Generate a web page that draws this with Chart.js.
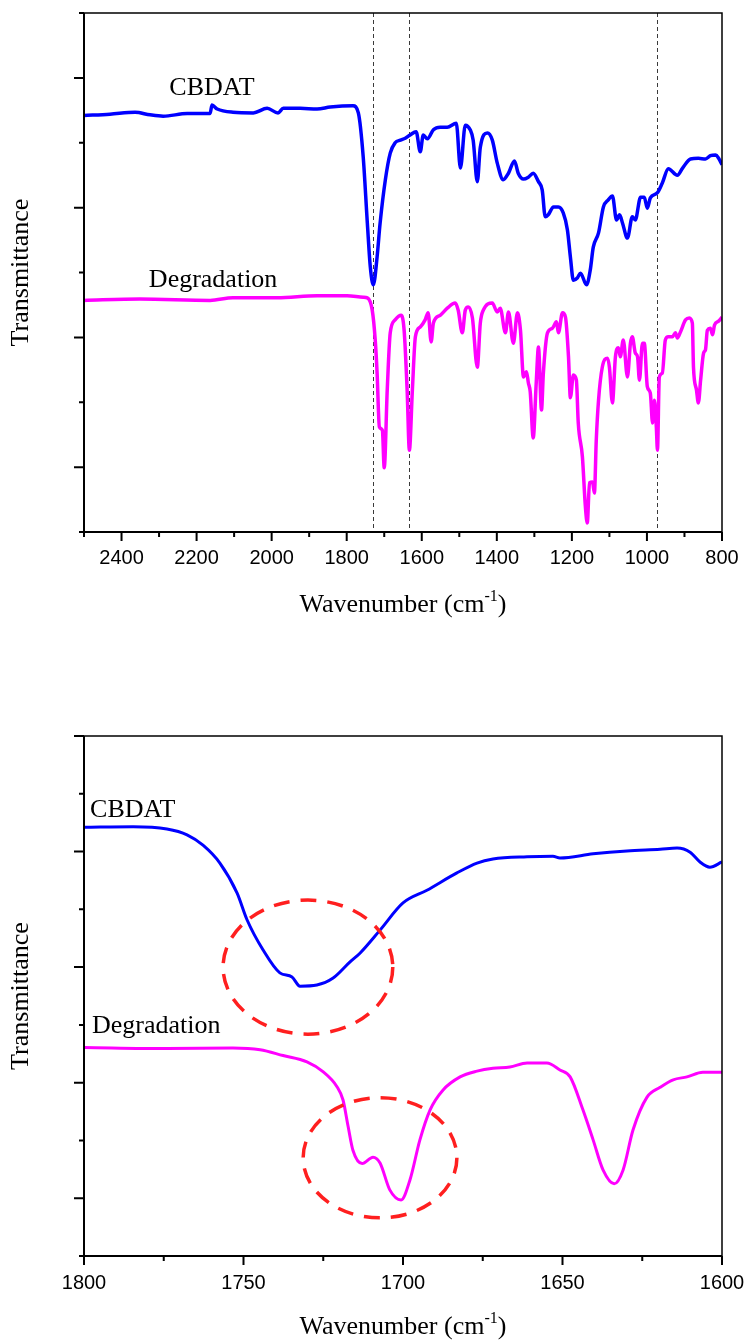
<!DOCTYPE html>
<html>
<head>
<meta charset="utf-8">
<script src="https://cdn.jsdelivr.net/npm/chart.js@4.4.1/dist/chart.umd.min.js"></script>
<style>
html, body { margin: 0; padding: 0; background: #fff; }
#wrapTop { position: absolute; left: 0; top: 0; width: 746px; height: 680px; }
#wrapBottom { position: absolute; left: 0; top: 680px; width: 746px; height: 662px; }
</style>
</head>
<body>
<div id="wrapTop"><canvas id="top" width="746" height="680"></canvas></div>
<div id="wrapBottom"><canvas id="bottom" width="746" height="662"></canvas></div>
<script>
// full range spectra (2500 - 800 cm-1), transmittance in arbitrary units
const cbdatWave = [2500, 2431, 2364, 2324, 2289, 2225, 2164, 2159, 2145, 2103,
    2049, 2012, 1983, 1969, 1924, 1879, 1844, 1783, 1769, 1756,
    1745, 1737, 1729, 1719, 1711, 1697, 1684, 1671, 1657, 1644,
    1631, 1615, 1604, 1596, 1585, 1569, 1551, 1532, 1508, 1497,
    1484, 1471, 1463, 1452, 1444, 1425, 1412, 1399, 1383, 1369,
    1353, 1343, 1329, 1316, 1303, 1289, 1279, 1271, 1263, 1249,
    1236, 1223, 1212, 1204, 1196, 1185, 1177, 1161, 1151, 1143,
    1129, 1116, 1103, 1092, 1081, 1073, 1065, 1052, 1039, 1031,
    1017, 1007, 999, 991, 972, 959, 943, 919, 905, 884,
    863, 844, 831, 817, 809, 800]
const cbdatT = [6.42, 6.44, 6.47, 6.43, 6.41, 6.45, 6.45, 6.58, 6.52, 6.47,
    6.46, 6.53, 6.46, 6.53, 6.53, 6.52, 6.55, 6.57, 6.46, 5.78,
    4.76, 4.08, 3.81, 4.24, 4.76, 5.43, 5.84, 6.00, 6.04, 6.07,
    6.12, 6.17, 5.86, 6.12, 6.06, 6.20, 6.24, 6.24, 6.30, 5.61,
    6.27, 6.20, 6.04, 5.40, 5.93, 6.15, 6.04, 5.69, 5.43, 5.53,
    5.72, 5.53, 5.44, 5.47, 5.53, 5.40, 5.27, 4.86, 4.89, 5.01,
    5.01, 4.92, 4.66, 4.24, 3.88, 3.92, 3.99, 3.81, 4.04, 4.39,
    4.61, 5.01, 5.12, 5.18, 4.81, 4.89, 4.76, 4.53, 4.86, 4.81,
    5.16, 5.16, 4.99, 5.15, 5.23, 5.38, 5.60, 5.50, 5.61, 5.75,
    5.76, 5.75, 5.80, 5.81, 5.76, 5.66]

const degWave = [2500, 2351, 2164, 2103, 1985, 1879, 1799, 1756, 1745, 1732,
    1724, 1719, 1713, 1705, 1700, 1692, 1684, 1671, 1655, 1647,
    1639, 1633, 1625, 1617, 1604, 1591, 1583, 1575, 1569, 1551,
    1532, 1511, 1503, 1492, 1484, 1476, 1465, 1452, 1444, 1436,
    1412, 1399, 1391, 1377, 1369, 1356, 1345, 1337, 1329, 1321,
    1316, 1311, 1303, 1295, 1289, 1281, 1276, 1265, 1252, 1241,
    1236, 1225, 1217, 1209, 1204, 1196, 1188, 1183, 1172, 1164,
    1159, 1153, 1145, 1140, 1135, 1129, 1119, 1105, 1100, 1092,
    1084, 1076, 1071, 1063, 1052, 1044, 1039, 1031, 1025, 1020,
    1012, 1007, 999, 991, 985, 980, 975, 972, 967, 959,
    951, 943, 932, 924, 919, 911, 897, 887, 879, 876,
    868, 863, 857, 849, 844, 839, 831, 825, 820, 809,
    800]
const degT = [3.57, 3.59, 3.57, 3.61, 3.61, 3.64, 3.64, 3.62, 3.61, 3.42,
    2.96, 2.45, 1.62, 1.57, 0.99, 2.19, 3.07, 3.27, 3.34, 3.11,
    2.19, 1.26, 2.19, 3.01, 3.16, 3.27, 3.38, 2.93, 3.22, 3.34,
    3.45, 3.53, 3.42, 3.07, 3.42, 3.47, 3.30, 2.54, 3.22, 3.42,
    3.53, 3.39, 3.45, 3.07, 3.39, 2.91, 3.38, 3.11, 2.39, 2.47,
    2.30, 2.16, 1.45, 2.30, 2.85, 1.88, 2.45, 3.07, 3.14, 3.24,
    3.07, 3.38, 3.31, 2.70, 2.07, 2.42, 2.34, 1.68, 1.16, 0.39,
    0.14, 0.76, 0.77, 0.60, 1.42, 2.03, 2.54, 2.68, 2.54, 1.99,
    2.70, 2.84, 2.70, 2.96, 2.39, 2.91, 3.01, 2.76, 2.70, 2.34,
    2.91, 2.91, 2.24, 2.14, 1.68, 2.03, 1.62, 1.26, 2.39, 2.45,
    2.96, 3.01, 3.01, 3.07, 2.99, 3.08, 3.27, 3.30, 3.22, 2.54,
    2.19, 1.99, 2.34, 2.76, 2.81, 3.11, 3.14, 3.04, 3.19, 3.25,
    3.31]

// carbonyl region (1800 - 1600 cm-1)
const zoomCbdatWave = [1800, 1784.6, 1774, 1767.7, 1762.7, 1757.4, 1752, 1748.9, 1743.9, 1738.6,
    1734.8, 1732.3, 1727, 1721.9, 1716.6, 1713.5, 1707.2, 1700, 1692.5, 1683.1,
    1676.8, 1671.8, 1661.1, 1653, 1650.8, 1640.4, 1629.8, 1619.4, 1614.1, 1610,
    1606.9, 1603.8, 1600]
const zoomCbdatT = [7.42, 7.43, 7.39, 7.29, 7.11, 6.80, 6.28, 5.82, 5.30, 4.90,
    4.83, 4.67, 4.69, 4.81, 5.09, 5.24, 5.64, 6.11, 6.33, 6.63,
    6.80, 6.87, 6.91, 6.92, 6.89, 6.96, 7.01, 7.04, 7.06, 6.99,
    6.82, 6.73, 6.82]

const zoomDegWave = [1800, 1774, 1753.3, 1744.8, 1737.6, 1730.1, 1725.1, 1720.7, 1718.8, 1717.2,
    1715.7, 1712.8, 1709.4, 1707.2, 1704.1, 1700.6, 1697.8, 1694.7, 1691.5, 1687.5,
    1682.1, 1676.8, 1671.8, 1666.5, 1661.1, 1654.9, 1650.8, 1647.6, 1643.6, 1640.4,
    1637.3, 1633.8, 1631, 1627.9, 1623.5, 1619.4, 1615.3, 1611, 1606, 1600]
const zoomDegT = [3.61, 3.59, 3.60, 3.57, 3.47, 3.36, 3.19, 2.93, 2.70, 2.24,
    1.83, 1.60, 1.71, 1.61, 1.14, 0.97, 1.32, 2.01, 2.53, 2.87,
    3.10, 3.20, 3.25, 3.27, 3.34, 3.34, 3.22, 3.10, 2.53, 2.01,
    1.49, 1.25, 1.49, 2.18, 2.75, 2.92, 3.05, 3.10, 3.18, 3.18]

// reference band positions (dashed lines) and highlighted regions
const guideWaves = [1730, 1634, 974]
const rings = [
    { x: 1729.8, y: 5.0, rx: 26.6, ry: 1.16 },
    { x: 1707.2, y: 1.7, rx: 24.1, ry: 1.04 }
]

const toPoints = (xs, ys) => xs.map((v, i) => ({ x: v, y: ys[i] }))

function decor(cfg) {
    return {
        id: "decor",
        beforeDatasetsDraw(chart) {
            const { ctx, chartArea: a, scales: { x } } = chart
            ctx.save()
            ctx.strokeStyle = "#3a3a3a"
            ctx.lineWidth = 1
            ctx.setLineDash([4, 3])
            cfg.guides.forEach(w => {
                const px = Math.round(x.getPixelForValue(w)) + 0.5
                ctx.beginPath()
                ctx.moveTo(px, a.top)
                ctx.lineTo(px, a.bottom)
                ctx.stroke()
            })
            ctx.restore()
        },
        afterDatasetsDraw(chart) {
            const { ctx, chartArea: a, scales: { x, y } } = chart
            ctx.save()
            // red dashed rings
            ctx.strokeStyle = "#ff1f1f"
            ctx.lineWidth = 3.5
            ctx.setLineDash([16, 11])
            cfg.rings.forEach(r => {
                const cx = x.getPixelForValue(r.x)
                const cy = y.getPixelForValue(r.y)
                const rx = Math.abs(x.getPixelForValue(r.x + r.rx) - cx)
                const ry = Math.abs(y.getPixelForValue(r.y + r.ry) - cy)
                ctx.beginPath()
                ctx.ellipse(cx, cy, rx, ry, 0, 0, Math.PI * 2)
                ctx.stroke()
            })
            ctx.setLineDash([])

            // frame
            ctx.strokeStyle = "#000"
            ctx.lineWidth = 1.5
            ctx.beginPath()
            ctx.moveTo(a.left, a.top)
            ctx.lineTo(a.right, a.top)
            ctx.lineTo(a.right, a.bottom)
            ctx.stroke()
            ctx.lineWidth = 2
            ctx.beginPath()
            ctx.moveTo(a.left, a.top)
            ctx.lineTo(a.left, a.bottom)
            ctx.lineTo(a.right, a.bottom)
            ctx.stroke()

            // tick marks, long on labelled values
            ctx.lineWidth = 2
            ctx.beginPath()
            x.ticks.forEach(t => {
                const px = x.getPixelForValue(t.value)
                const len = t.value % cfg.xMajor === 0 ? 9 : 5
                ctx.moveTo(px, a.bottom)
                ctx.lineTo(px, a.bottom + len)
            })
            y.ticks.forEach(t => {
                const py = y.getPixelForValue(t.value)
                const len = t.value % 2 === 1 ? 10 : 5
                ctx.moveTo(a.left, py)
                ctx.lineTo(a.left - len, py)
            })
            ctx.stroke()

            // curve names
            ctx.fillStyle = "#000"
            ctx.font = '26px "Liberation Serif"'
            ctx.textBaseline = "middle"
            cfg.notes.forEach(n => {
                ctx.textAlign = n.align
                ctx.fillText(n.text, x.getPixelForValue(n.x), y.getPixelForValue(n.y))
            })

            // x title with superscript
            const main = "Wavenumber (cm"
            const sup = "-1"
            const tail = ")"
            ctx.font = '26px "Liberation Serif"'
            const w1 = ctx.measureText(main).width
            const w3 = ctx.measureText(tail).width
            ctx.font = '16px "Liberation Serif"'
            const w2 = ctx.measureText(sup).width
            const ty = a.bottom + cfg.titleGap
            let tx = (a.left + a.right) / 2 - (w1 + w2 + w3) / 2
            ctx.textAlign = "left"
            ctx.textBaseline = "alphabetic"
            ctx.font = '26px "Liberation Serif"'
            ctx.fillText(main, tx, ty + 9)
            tx += w1
            ctx.font = '16px "Liberation Serif"'
            ctx.fillText(sup, tx, ty - 2)
            tx += w2
            ctx.font = '26px "Liberation Serif"'
            ctx.fillText(tail, tx, ty + 9)
            ctx.restore()
        }
    }
}

function makeChart(id, opt) {
    const canvas = document.getElementById(id).getContext("2d")
    return new Chart(canvas, {
        type: "line",
        data: {
            datasets: [
                {
                    label: "CBDAT",
                    data: toPoints(opt.blueX, opt.blueY),
                    borderColor: "#0000ff",
                    borderWidth: opt.lineWidth,
                    pointRadius: 0,
                    cubicInterpolationMode: "monotone",
                    fill: false
                },
                {
                    label: "Degradation",
                    data: toPoints(opt.pinkX, opt.pinkY),
                    borderColor: "#ff00ff",
                    borderWidth: opt.lineWidth,
                    pointRadius: 0,
                    cubicInterpolationMode: "monotone",
                    fill: false
                }
            ]
        },
        options: {
            responsive: false,
            animation: false,
            layout: { padding: { left: 0, right: 24, top: opt.padTop, bottom: 0 } },
            plugins: { legend: { display: false }, tooltip: { enabled: false } },
            scales: {
                x: {
                    type: "linear",
                    reverse: true,
                    min: opt.xMin,
                    max: opt.xMax,
                    afterFit: s => {
                        s.height = opt.xHeight
                        s.paddingLeft = 0
                        s.paddingRight = 0
                    },
                    grid: { display: false, drawTicks: false },
                    border: { display: false },
                    ticks: {
                        stepSize: opt.xStep,
                        autoSkip: false,
                        maxRotation: 0,
                        padding: opt.labelPad,
                        color: "#000",
                        font: { family: "Liberation Sans", size: 20 },
                        callback: v => (v % opt.xMajor === 0 ? String(v) : "")
                    }
                },
                y: {
                    min: 0,
                    max: opt.yMax,
                    afterFit: s => {
                        s.width = 84
                        s.paddingTop = 0
                        s.paddingBottom = 0
                    },
                    grid: { display: false, drawTicks: false },
                    border: { display: false },
                    ticks: { stepSize: 1, display: false },
                    title: {
                        display: true,
                        text: "Transmittance",
                        color: "#000",
                        font: { family: "Liberation Serif", size: 26, weight: "normal" },
                        padding: { top: 6, bottom: 0 }
                    }
                }
            }
        },
        plugins: [decor(opt.decor)]
    })
}

makeChart("top", {
    blueX: cbdatWave, blueY: cbdatT, pinkX: degWave, pinkY: degT,
    lineWidth: 3.5, padTop: 13, xHeight: 148, labelPad: 14,
    xMin: 800, xMax: 2500, xStep: 100, xMajor: 200, yMax: 8,
    decor: {
        guides: guideWaves, rings: [], xMajor: 200, titleGap: 71,
        notes: [
            { text: "CBDAT", x: 2159, y: 6.84, align: "center" },
            { text: "Degradation", x: 2156, y: 3.88, align: "center" }
        ]
    }
})

makeChart("bottom", {
    blueX: zoomCbdatWave, blueY: zoomCbdatT, pinkX: zoomDegWave, pinkY: zoomDegT,
    lineWidth: 3, padTop: 56, xHeight: 86, labelPad: 15,
    xMin: 1600, xMax: 1800, xStep: 25, xMajor: 50, yMax: 9,
    decor: {
        guides: [], rings: rings, xMajor: 50, titleGap: 69,
        notes: [
            { text: "CBDAT", x: 1798.1, y: 7.72, align: "left" },
            { text: "Degradation", x: 1797.5, y: 3.98, align: "left" }
        ]
    }
})
</script>
</body>
</html>
